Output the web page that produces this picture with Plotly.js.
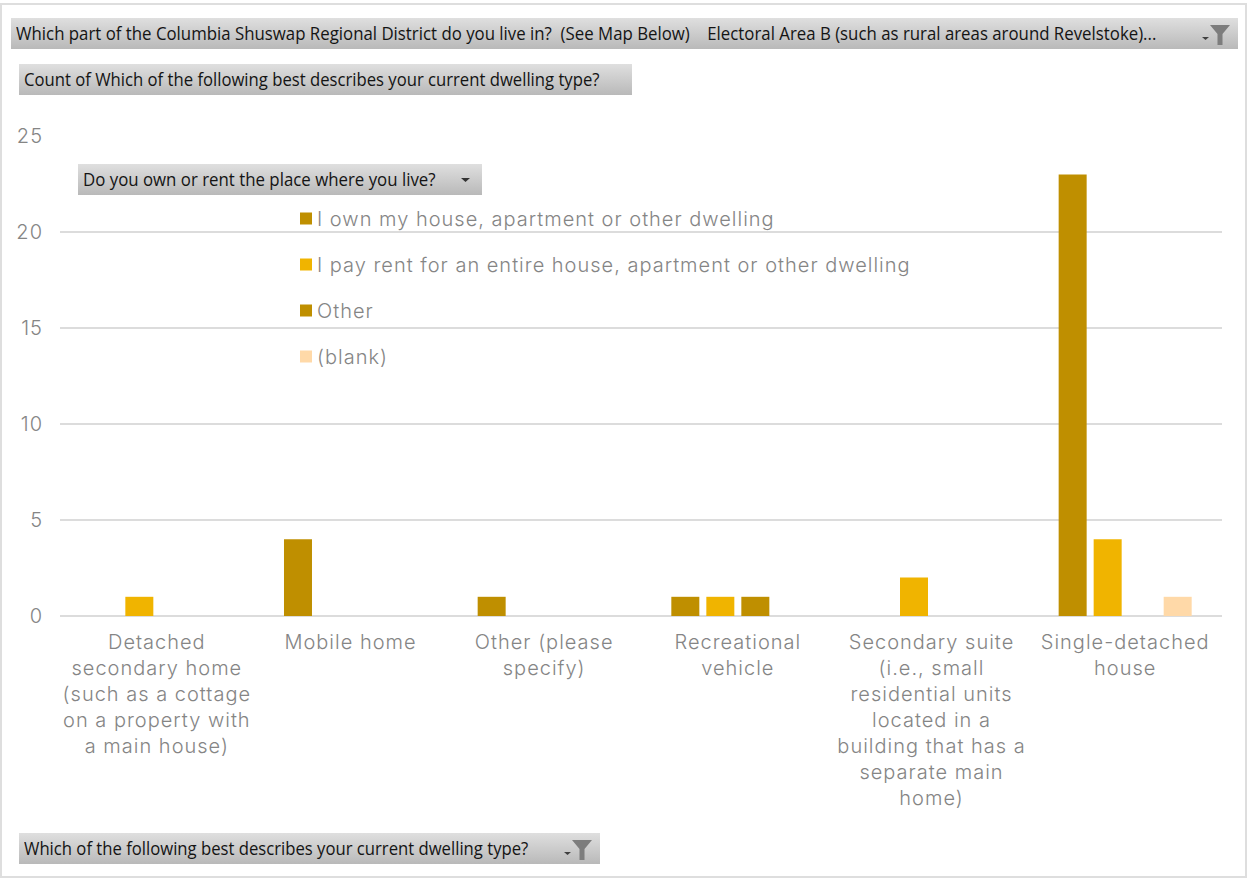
<!DOCTYPE html>
<html>
<head>
<meta charset="utf-8">
<script src="https://cdn.plot.ly/plotly-3.0.1.min.js"></script>
<style>
  html, body { margin: 0; padding: 0; background: #fff; }
  #stage { position: relative; width: 1248px; height: 878px; overflow: hidden; }
  #frame { position: absolute; left: 0; top: 3px; width: 1243px; height: 871px; border: 2px solid #dedede; }
  #chart { position: absolute; left: 0; top: 0; width: 1248px; height: 878px; }
  svg text { letter-spacing: 1px; }
  .pivot {
    position: absolute; box-sizing: border-box; padding-left: 5px;
    background: linear-gradient(#dfdfdf, #b9b9b9);
    font: 18px/31px "Open Sans", sans-serif;
    color: #141414; white-space: pre;
  }
  .pivot span { display: inline-block; transform-origin: left center; }
  .pivot svg { position: absolute; top: 0; }
</style>
</head>
<body>
<div id="stage">
  <div id="frame"></div>
  <div id="chart"></div>
</div>
<script>
// Dwelling type counts by tenure, Electoral Area B
const categories = [
  "Detached<br>secondary home<br>(such as a cottage<br>on a property with<br>a main house)",
  "Mobile home",
  "Other (please<br>specify)",
  "Recreational<br>vehicle",
  "Secondary suite<br>(i.e., small<br>residential units<br>located in a<br>building that has a<br>separate main<br>home)",
  "Single-detached<br>house"
];
const ownValues   = [null, 4, 1, 1, null, 23];
const rentValues  = [1, null, null, 1, 2, 4];
const otherValues = [null, null, null, 1, null, null];
const blankValues = [null, null, null, null, null, 1];
const seriesNames = [
  "I own my house, apartment or other dwelling",
  "I pay rent for an entire house, apartment or other dwelling",
  "Other",
  "(blank)"
];
const seriesColors = ["#BF8F00", "#F0B400", "#BF8F00", "#FFD9A8"];
const yTicks = [0, 5, 10, 15, 20, 25];

// Pivot field buttons: label, box, horizontal text squeeze, and optional glyph
const fieldButtons = [
  { text: "Which part of the Columbia Shuswap Regional District do you live in?  (See Map Below)    Electoral Area B (such as rural areas around Revelstoke)...", x: 11, y: 18, w: 1227, h: 31, squeeze: 0.934, glyph: "filter" },
  { text: "Count of Which of the following best describes your current dwelling type?", x: 19, y: 64, w: 613, h: 31, squeeze: 0.926 },
  { text: "Do you own or rent the place where you live?", x: 78, y: 164, w: 404, h: 31, squeeze: 0.935, glyph: "drop" },
  { text: "Which of the following best describes your current dwelling type?", x: 19, y: 833, w: 581, h: 31, squeeze: 0.926, glyph: "filter" }
];

const traces = [ownValues, rentValues, otherValues, blankValues].map((vals, i) => ({
  type: "bar",
  name: seriesNames[i],
  x: categories,
  y: vals,
  legendgroup: "g" + i,
  marker: { color: seriesColors[i], line: { width: 0 } },
  hoverinfo: "x+y+name"
}));

const W = 1248, H = 878;
const plotL = 60, plotR = 1222, plotT = 136, plotB = 616;
const textFont = { family: "Inter, 'Open Sans', sans-serif", size: 20, color: "#858585", weight: 300 };

const layout = {
  width: W, height: H,
  paper_bgcolor: "rgba(0,0,0,0)",
  plot_bgcolor: "rgba(0,0,0,0)",
  margin: { l: plotL, r: W - plotR, t: plotT, b: H - plotB, pad: 0 },
  barmode: "group",
  bargap: 0.277,
  bargroupgap: 0.2,
  font: textFont,
  showlegend: true,
  legend: {
    x: (277 - plotL) / (plotR - plotL),
    y: (plotB - 199) / (plotB - plotT),
    xanchor: "left", yanchor: "top",
    bgcolor: "rgba(0,0,0,0)",
    borderwidth: 0,
    tracegroupgap: 17,
    font: textFont
  },
  xaxis: {
    type: "category",
    categoryorder: "array",
    categoryarray: categories,
    tickangle: 0,
    ticks: "outside", ticklen: 8, tickcolor: "rgba(0,0,0,0)",
    showgrid: false, showline: false, zeroline: false,
    tickfont: textFont,
    automargin: false
  },
  yaxis: {
    range: [0, 25],
    tickvals: yTicks,
    ticks: "outside", ticklen: 12, tickcolor: "rgba(0,0,0,0)",
    showgrid: true, gridcolor: "#dcdcdc", gridwidth: 2,
    zeroline: true, zerolinecolor: "#dcdcdc", zerolinewidth: 2,
    showline: false,
    tickfont: textFont,
    automargin: false
  }
};

function addFieldButtons() {
  const stage = document.getElementById("stage");
  fieldButtons.forEach(b => {
    const el = document.createElement("div");
    el.className = "pivot";
    el.style.cssText = `left:${b.x}px;top:${b.y}px;width:${b.w}px;height:${b.h}px;`;
    const label = document.createElement("span");
    label.textContent = b.text;
    label.style.transform = `scaleX(${b.squeeze})`;
    el.appendChild(label);
    if (b.glyph === "filter") {
      el.insertAdjacentHTML("beforeend",
        `<svg style="right:7px" width="30" height="${b.h}"><path d="M1 19h7l-3.500 3z" fill="#404040"/><path d="M9 7h20l-7.500 9v11h-5V16z" fill="#7d7d7d"/></svg>`);
    } else if (b.glyph === "drop") {
      el.insertAdjacentHTML("beforeend",
        `<svg style="right:10px" width="12" height="${b.h}"><path d="M1 14h9l-4.500 4z" fill="#333"/></svg>`);
    }
    stage.appendChild(el);
  });
}

Plotly.newPlot("chart", traces, layout, { displayModeBar: false }).then(() => {
  // Tighten the gap between each legend swatch and its label
  document.querySelectorAll("#chart .legend .legendsymbols").forEach(s => {
    s.setAttribute("transform", "translate(9,0)");
  });
  addFieldButtons();
});
</script>
</body>
</html>
